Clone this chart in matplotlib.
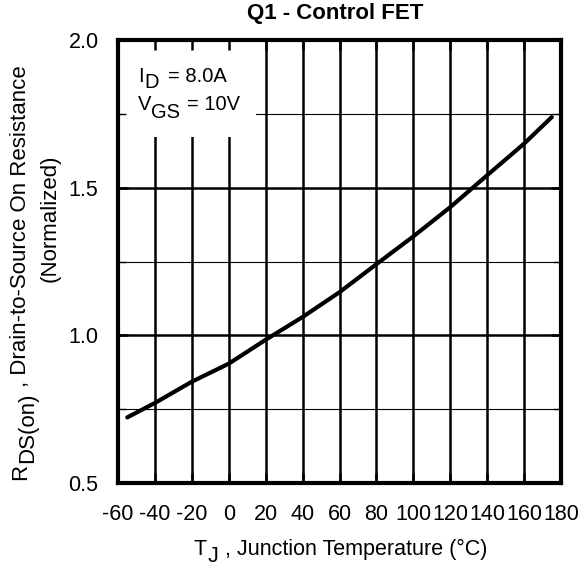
import matplotlib
matplotlib.use("Agg")
import matplotlib.pyplot as plt
from matplotlib.patches import Rectangle
from matplotlib import transforms

plt.rcParams['font.family'] = ['Liberation Sans', 'DejaVu Sans']
plt.rcParams['axes.unicode_minus'] = False

# Data
temps = [-55, -40, -20, 0, 20, 40, 60, 80, 100, 120, 140, 160, 175]
rds_norm = [0.722, 0.771, 0.843, 0.904, 0.985, 1.062, 1.146, 1.241, 1.335, 1.434, 1.542, 1.649, 1.739]
x_ticks = [-60, -40, -20, 0, 20, 40, 60, 80, 100, 120, 140, 160, 180]
y_ticks = [0.5, 1.0, 1.5, 2.0]
y_minor = [0.75, 1.25, 1.75]
title = "Q1 - Control FET"
xlabel_parts = ["T", "J", ", Junction Temperature (°C)"]
ylabel_parts = ["R", "DS(on)", ", Drain-to-Source On Resistance"]
ylabel2 = "(Normalized)"
note1_parts = ["I", "D", "= 8.0A"]
note2_parts = ["V", "GS", "= 10V"]

W, H = 580, 569
fig = plt.figure(figsize=(W/100, H/100), dpi=100)
ax = fig.add_axes([118/W, 1-483/H, 443/W, 443/H])
renderer = fig.canvas.get_renderer()

ax.set_xlim(-60, 180)
ax.set_ylim(0.5, 2.0)

# grid lines
for xv in x_ticks[1:-1]:
    ax.axvline(xv, color='black', lw=1.8, zorder=1)
for yv in y_ticks[1:-1]:
    ax.axhline(yv, color='black', lw=1.8, zorder=1)
for yv in y_minor:
    ax.axhline(yv, color='black', lw=0.8, zorder=1)

# white box behind annotation
ax.add_patch(Rectangle((-60, 1.672), 74.5, 0.4, facecolor='white', edgecolor='none', zorder=2))

ax.plot(temps, rds_norm, color='black', lw=3, solid_capstyle='round', zorder=3)

ax.set_xticks(x_ticks)
ax.set_yticks(y_ticks)
ax.set_yticks(y_minor, minor=True)
ax.set_yticklabels([f"{v:.1f}" for v in y_ticks])
ax.tick_params(axis='both', which='major', direction='in', length=7, width=1.8,
               top=True, right=True, labelsize=15.5, colors='black')
ax.tick_params(axis='x', pad=15)
ax.tick_params(axis='y', pad=14)
ax.tick_params(axis='y', which='minor', direction='in', length=6, width=1, right=True, left=True)
ax.set_axisbelow(False)

for s in ax.spines.values():
    s.set_linewidth(3)
    s.set_zorder(4)


def rich_text(x_px, y_px, parts, shifts, gaps, size, rotation=0, weight='normal', zorder=5):
    """Chain text pieces; shift > 0 lowers the baseline (subscript)."""
    adv = 0.0
    for s, sh, gap in zip(parts, shifts, gaps):
        adv += gap
        if rotation == 0:
            tr = transforms.offset_copy(fig.transFigure, fig=fig, x=adv, y=-sh, units='dots')
        else:
            tr = transforms.offset_copy(fig.transFigure, fig=fig, x=sh, y=adv, units='dots')
        t = fig.text(x_px/W, 1-y_px/H, s, transform=tr, fontsize=size, fontweight=weight,
                     rotation=rotation, rotation_mode='anchor', ha='left', va='baseline',
                     zorder=zorder)
        bb = t.get_window_extent(renderer)
        adv += bb.width if rotation == 0 else bb.height


rich_text(138, 82, note1_parts, [0, 6, 0], [0, 1, 9], 14.5)
rich_text(138, 110, note2_parts, [0, 8, 0], [0, 0, 7], 14.5)

fig.text(335/W, 1-13/H, title, ha='center', va='center', fontsize=16, fontweight='bold')
rich_text(193, 555, xlabel_parts, [0, 7, 0], [0, 1, 7], 15.5)
rich_text(26, 480, ylabel_parts, [0, 7, 0], [0, 1, 5], 16, rotation=90)
fig.text(50/W, 1-218/H, ylabel2, ha='center', va='center', rotation=90, fontsize=16)

fig.savefig("out.png", dpi=100)
